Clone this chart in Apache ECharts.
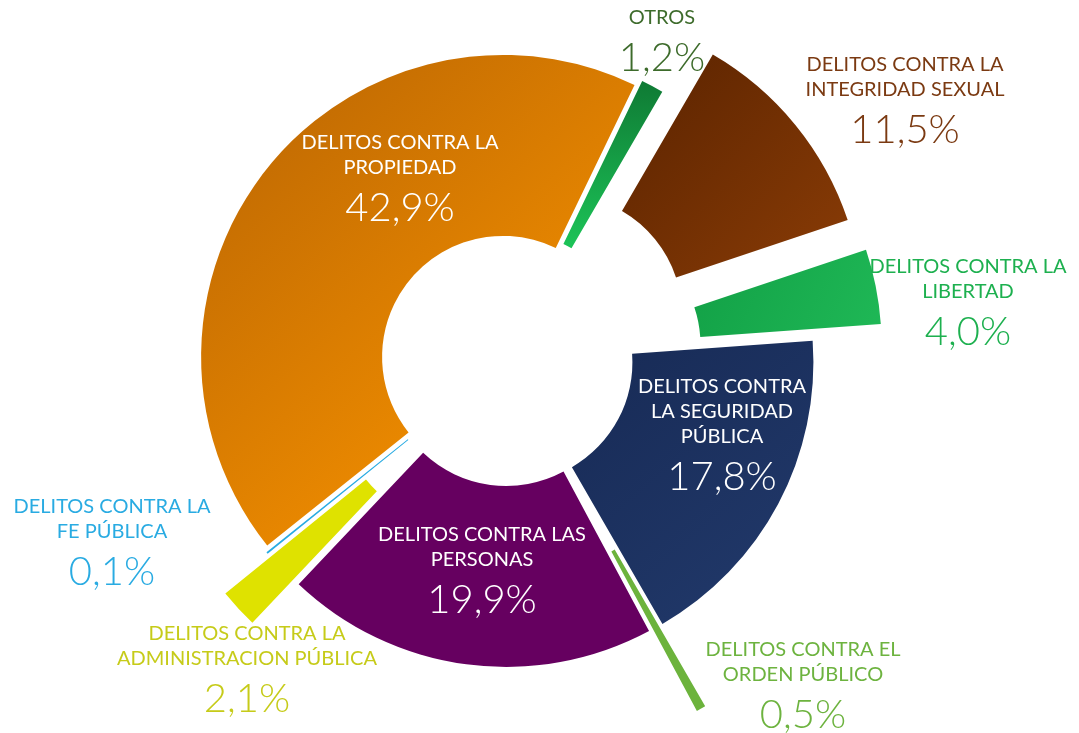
<!DOCTYPE html>
<html>
<head>
<meta charset="utf-8">
<script src="https://cdn.jsdelivr.net/npm/echarts@6/dist/echarts.min.js"></script>
<style>
  html, body { margin: 0; padding: 0; background: #ffffff; }
  #chart { width: 1079px; height: 733px; }
</style>
</head>
<body>
<div id="chart"></div>
<script>
// ---- data ----
const categories = [
  'OTROS',
  'DELITOS CONTRA LA\nINTEGRIDAD SEXUAL',
  'DELITOS CONTRA LA\nLIBERTAD',
  'DELITOS CONTRA\nLA SEGURIDAD\nPÚBLICA',
  'DELITOS CONTRA EL\nORDEN PÚBLICO',
  'DELITOS CONTRA LAS\nPERSONAS',
  'DELITOS CONTRA LA\nADMINISTRACION PÚBLICA',
  'DELITOS CONTRA LA\nFE PÚBLICA',
  'DELITOS CONTRA LA\nPROPIEDAD'
];
const values = [1.2, 11.5, 4.0, 17.8, 0.5, 19.9, 2.1, 0.1, 42.9];

// ---- styling (not data) ----
const explode = [8, 70, 74, 5, 97, 5, 64, 6, 5];
const grad = (a, b, x2, y2) => new echarts.graphic.LinearGradient(0, 0, x2, y2, [
  { offset: 0, color: a }, { offset: 1, color: b }
]);
const sliceColors = [
  grad('#0f7a34', '#1cc458', 0, 1),
  grad('#5a2300', '#8a3c06', 1, 1),
  grad('#12a046', '#1fb856', 1, 1),
  grad('#172a55', '#223a6c', 1, 1),
  '#6cb33c',
  '#660060',
  '#dfe200',
  '#29abe2',
  grad('#b86403', '#ec8a00', 0.7, 0.7)
];
const labelColors = ['#3d6b2b', '#7b3a12', '#1db04f', '#ffffff', '#6db33f', '#ffffff', '#c6cb19', '#29abe2', '#ffffff'];
const labelPos = [
  [662, 46], [905, 105], [968, 307], [722, 440], [803, 690],
  [482, 575], [247, 674], [112, 547], [400, 183]
];

const CENTER = [507, 360];
const RADIUS = [121, 302];
const START = 64.2;
const fmt = v => v.toFixed(1).replace('.', ',') + '%';

const sliceSeries = categories.map((_, k) => ({
  type: 'pie',
  center: CENTER,
  radius: RADIUS,
  startAngle: START,
  clockwise: true,
  silent: true,
  animation: false,
  avoidLabelOverlap: false,
  selectedMode: 'multiple',
  selectedOffset: explode[k],
  emphasis: { disabled: true },
  label: { show: false },
  labelLine: { show: false },
  data: categories.map((name, i) => ({
    name: name,
    value: values[i],
    selected: i === k,
    itemStyle: { color: i === k ? sliceColors[i] : 'rgba(0,0,0,0)', borderWidth: 0 },
    select: { itemStyle: { color: i === k ? sliceColors[i] : 'rgba(0,0,0,0)', borderWidth: 0 } }
  }))
}));

const labelSeries = {
  type: 'pie',
  center: CENTER,
  radius: RADIUS,
  startAngle: START,
  clockwise: true,
  silent: true,
  animation: false,
  avoidLabelOverlap: false,
  z: 10,
  emphasis: { disabled: true },
  itemStyle: { color: 'rgba(0,0,0,0)', borderWidth: 0 },
  label: {
    show: true,
    position: 'inside',
    rotate: 0,
    formatter: p => '{n|' + p.name + '}\n{v|' + fmt(p.value) + '}',
    rich: {
      n: { fontFamily: 'Lato', fontSize: 20, lineHeight: 25, align: 'center' },
      v: { fontFamily: 'Lato', fontSize: 40, fontWeight: 300, lineHeight: 56, align: 'center' }
    }
  },
  labelLine: { show: false },
  labelLayout: p => ({
    x: labelPos[p.dataIndex][0],
    y: labelPos[p.dataIndex][1],
    align: 'center',
    verticalAlign: 'middle'
  }),
  data: categories.map((name, i) => ({
    name: name,
    value: values[i],
    label: { color: labelColors[i] }
  }))
};

const chart = echarts.init(document.getElementById('chart'), null, { renderer: 'canvas' });
chart.setOption({
  animation: false,
  backgroundColor: '#ffffff',
  series: sliceSeries.concat([labelSeries])
});
</script>
</body>
</html>
